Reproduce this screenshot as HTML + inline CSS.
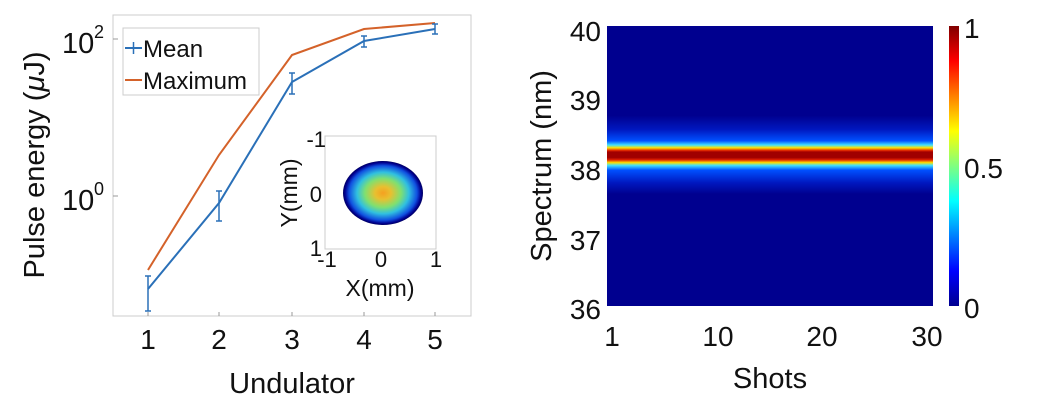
<!DOCTYPE html>
<html><head><meta charset="utf-8"><style>
body{margin:0;background:#fff;}
svg text{font-family:"Liberation Sans",sans-serif;fill:#111;}
</style></head><body>
<svg width="1038" height="409" viewBox="0 0 1038 409" xmlns="http://www.w3.org/2000/svg">
<defs>
<linearGradient id="band" x1="0" y1="0" x2="0" y2="1">
<stop offset="0" stop-color="#00008f"/>
<stop offset="0.32" stop-color="#00008f"/>
<stop offset="0.37" stop-color="#0018c0"/>
<stop offset="0.41" stop-color="#0050ff"/>
<stop offset="0.425" stop-color="#40e0ff"/>
<stop offset="0.435" stop-color="#ffe000"/>
<stop offset="0.445" stop-color="#e02000"/>
<stop offset="0.45" stop-color="#a00000"/>
<stop offset="0.47" stop-color="#a00000"/>
<stop offset="0.478" stop-color="#e02000"/>
<stop offset="0.488" stop-color="#ffe000"/>
<stop offset="0.498" stop-color="#40e0ff"/>
<stop offset="0.515" stop-color="#0050ff"/>
<stop offset="0.56" stop-color="#0018c0"/>
<stop offset="0.6" stop-color="#00008f"/>
<stop offset="1" stop-color="#00008f"/>
</linearGradient>
<linearGradient id="jet" x1="0" y1="0" x2="0" y2="1">
<stop offset="0" stop-color="#800000"/>
<stop offset="0.125" stop-color="#ff0000"/>
<stop offset="0.375" stop-color="#ffff00"/>
<stop offset="0.625" stop-color="#00ffff"/>
<stop offset="0.875" stop-color="#0000ff"/>
<stop offset="1" stop-color="#00008f"/>
</linearGradient>
<radialGradient id="blob" cx="0.5" cy="0.5" r="0.5">
<stop offset="0" stop-color="#f5a020"/>
<stop offset="0.2" stop-color="#e8c030"/>
<stop offset="0.45" stop-color="#80e070"/>
<stop offset="0.65" stop-color="#30c0e0"/>
<stop offset="0.85" stop-color="#1050e0"/>
<stop offset="0.95" stop-color="#000090"/>
<stop offset="1" stop-color="#000060"/>
</radialGradient>
</defs>
<!-- left plot -->
<rect x="113" y="15" width="358" height="301" fill="none" stroke="#ccc" stroke-width="1"/>
<g stroke="#999" stroke-width="1">
<line x1="148" y1="316" x2="148" y2="312"/><line x1="219" y1="316" x2="219" y2="312"/>
<line x1="292" y1="316" x2="292" y2="312"/><line x1="364" y1="316" x2="364" y2="312"/>
<line x1="435" y1="316" x2="435" y2="312"/>
<line x1="113" y1="39" x2="118" y2="39"/><line x1="113" y1="196" x2="118" y2="196"/>
</g>
<text x="62" y="53" font-size="29">10</text><text x="94" y="38" font-size="18">2</text>
<text x="62" y="210" font-size="29">10</text><text x="94" y="195" font-size="18">0</text>
<g font-size="28" text-anchor="middle">
<text x="148" y="349">1</text><text x="219" y="349">2</text><text x="292" y="349">3</text><text x="364" y="349">4</text><text x="435" y="349">5</text>
</g>
<text x="292" y="393" font-size="29" text-anchor="middle">Undulator</text>
<text transform="translate(44,165) rotate(-90)" font-size="29" text-anchor="middle">Pulse energy (<tspan font-style="italic">μ</tspan>J)</text>
<polyline points="148,270 219,155 292,55 364,29 435,23" fill="none" stroke="#d4622a" stroke-width="2"/>
<polyline points="148,289 219,203 292,82 364,41 435,29" fill="none" stroke="#2a70b8" stroke-width="2"/>
<g stroke="#2a70b8" stroke-width="1.5">
<line x1="148" y1="276" x2="148" y2="311"/><line x1="145" y1="276" x2="151" y2="276"/><line x1="145" y1="311" x2="151" y2="311"/>
<line x1="219" y1="191" x2="219" y2="221"/><line x1="216" y1="191" x2="222" y2="191"/><line x1="216" y1="221" x2="222" y2="221"/>
<line x1="292" y1="73" x2="292" y2="94"/><line x1="289" y1="73" x2="295" y2="73"/><line x1="289" y1="94" x2="295" y2="94"/>
<line x1="364" y1="36" x2="364" y2="47"/><line x1="361" y1="36" x2="367" y2="36"/><line x1="361" y1="47" x2="367" y2="47"/>
<line x1="435" y1="24" x2="435" y2="34"/><line x1="432" y1="24" x2="438" y2="24"/><line x1="432" y1="34" x2="438" y2="34"/>
</g>
<rect x="123" y="28" width="136" height="67" fill="#fff" stroke="#ccc"/>
<line x1="125" y1="48" x2="142" y2="48" stroke="#2a70b8" stroke-width="2"/><line x1="133.5" y1="42" x2="133.5" y2="54" stroke="#2a70b8" stroke-width="1.5"/>
<line x1="125" y1="80" x2="142" y2="80" stroke="#d4622a" stroke-width="2"/>
<text x="143" y="57" font-size="24">Mean</text>
<text x="143" y="89" font-size="24">Maximum</text>
<!-- inset -->
<rect x="325" y="136" width="111" height="113" fill="#fff" stroke="#ccc"/>
<ellipse cx="383" cy="193" rx="40" ry="32" fill="url(#blob)"/>
<g font-size="22" text-anchor="end"><text x="326" y="147">-1</text><text x="322" y="202">0</text><text x="322" y="256">1</text></g>
<g font-size="22" text-anchor="middle"><text x="327" y="267">-1</text><text x="381" y="267">0</text><text x="436" y="267">1</text></g>
<text x="380" y="296" font-size="23" text-anchor="middle">X(mm)</text>
<text transform="translate(297,193) rotate(-90)" font-size="23" text-anchor="middle">Y(mm)</text>
<!-- right plot -->
<rect x="607" y="26" width="326" height="280" fill="url(#band)"/>
<rect x="949" y="26" width="10" height="280" fill="url(#jet)"/>
<g font-size="28" text-anchor="end">
<text x="601" y="41">40</text><text x="601" y="110">39</text><text x="601" y="180">38</text><text x="601" y="250">37</text><text x="601" y="319">36</text>
</g>
<g font-size="28" text-anchor="middle">
<text x="612" y="346">1</text><text x="718" y="346">10</text><text x="822" y="346">20</text><text x="927" y="346">30</text>
</g>
<g font-size="28"><text x="964" y="38">1</text><text x="964" y="178">0.5</text><text x="964" y="318">0</text></g>
<text x="770" y="388" font-size="29" text-anchor="middle">Shots</text>
<text transform="translate(551,166) rotate(-90)" font-size="29" text-anchor="middle">Spectrum (nm)</text>
</svg>
</body></html>
